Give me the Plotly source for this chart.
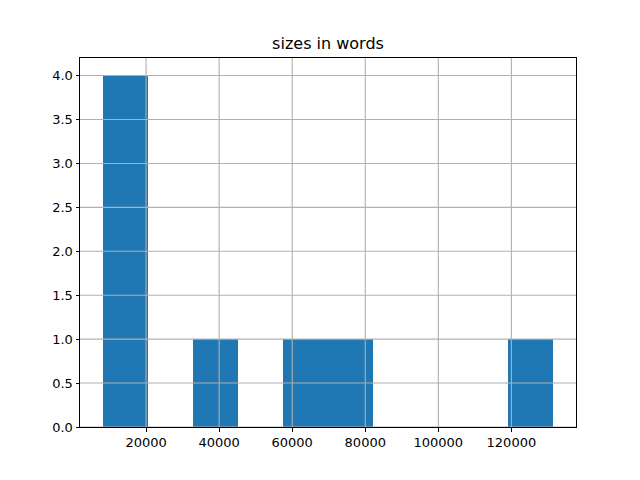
import numpy as np
import plotly.graph_objects as go

# word counts of the documents
sizes_in_words = [8088, 11000, 14500, 17900, 39000, 64000, 76000, 131513]
n_bins = 10
x_ticks = [20000, 40000, 60000, 80000, 100000, 120000]
y_ticks = [0.0, 0.5, 1.0, 1.5, 2.0, 2.5, 3.0, 3.5, 4.0]
title = "sizes in words"

counts, edges = np.histogram(sizes_in_words, bins=n_bins)
centers = (edges[:-1] + edges[1:]) / 2
widths = np.diff(edges)

lo, hi = edges[0], edges[-1]
pad = 0.05 * (hi - lo)
ymax = counts.max() * 1.05

fig = go.Figure(go.Bar(x=centers, y=counts, width=widths,
                       marker=dict(color="#1f77b4", line=dict(width=0)),
                       hoverinfo="x+y"))

grid = dict(color="#b0b0b0", width=1.1)
shapes = []
for v in x_ticks:
    shapes.append(dict(type="line", xref="x", yref="paper", x0=v, x1=v, y0=0, y1=1,
                       line=grid, layer="above"))
for v in y_ticks:
    shapes.append(dict(type="line", xref="paper", yref="y", x0=0, x1=1, y0=v, y1=v,
                       line=grid, layer="above"))

axis_common = dict(showgrid=False, zeroline=False, showline=True, linecolor="black",
                   linewidth=1, mirror=True, ticks="outside", ticklen=3.5, tickwidth=1,
                   tickcolor="black", tickfont=dict(family="DejaVu Sans", size=13, color="black"))

fig.update_layout(
    width=640, height=480,
    margin=dict(l=72, r=72, t=50, b=61),
    paper_bgcolor="white", plot_bgcolor="white",
    bargap=0, showlegend=False,
    shapes=shapes,
    title=dict(text=title, x=0.5, xref="paper", xanchor="center",
               y=1 - 35 / 480, yanchor="middle",
               font=dict(family="DejaVu Sans", size=16, color="black")),
    xaxis=dict(range=[lo - pad, hi + pad], tickvals=x_ticks,
               ticktext=[str(v) for v in x_ticks], **axis_common),
    yaxis=dict(range=[0, ymax], tickvals=y_ticks,
               ticktext=[f"{v:.1f}" for v in y_ticks], **axis_common),
)

fig.write_html("out.html")
